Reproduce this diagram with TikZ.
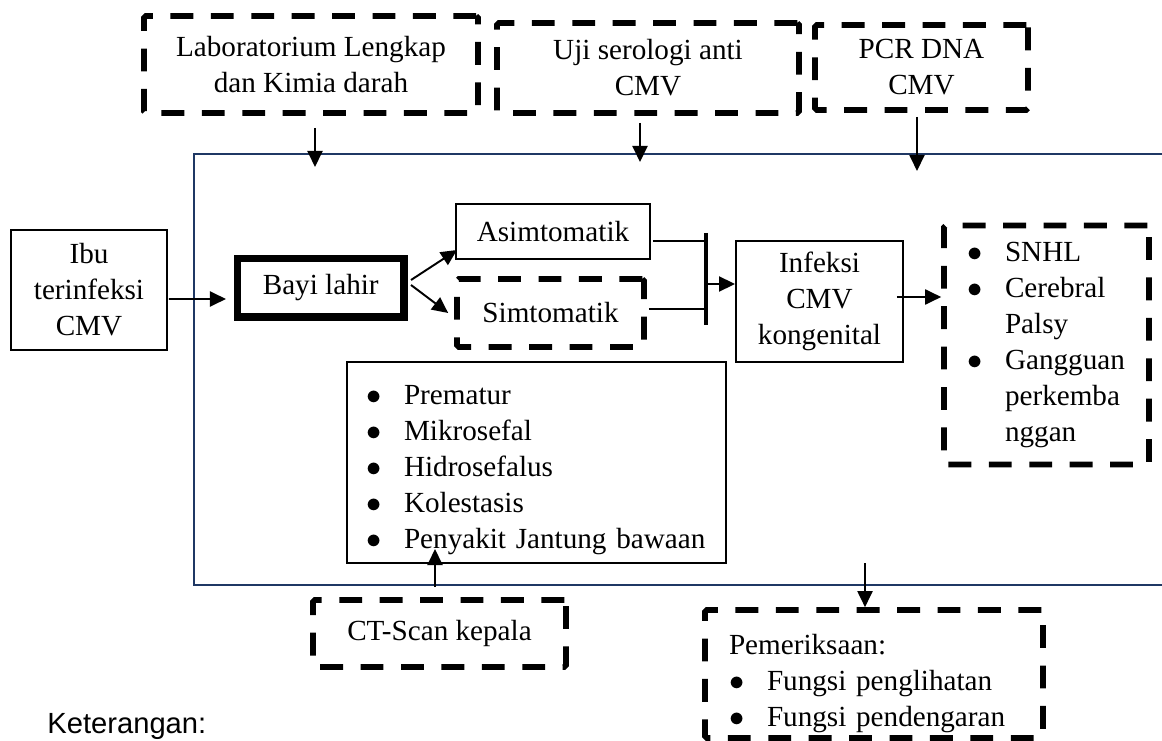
\documentclass[tikz,border=0pt]{standalone}
\usepackage{fontspec}
\setmainfont{Liberation Serif}
\newfontfamily\arialfont{Liberation Sans}
\usetikzlibrary{arrows.meta, calc}
\definecolor{FR}{RGB}{31,56,100}
\newcommand{\boxfont}{\fontsize{16.6}{20.5}\selectfont}
\newcommand{\bul}{\makebox[0.76cm][l]{$\bullet$}}
\newcommand{\cont}{\hspace*{0.76cm}}

\begin{document}
\begin{tikzpicture}[
  sbox/.style={draw, line width=1.1pt, align=center, font=\boxfont, inner sep=0pt},
  dbox/.style={draw, line width=3.2pt, dash pattern=on 13pt off 10pt,
                rounded corners=1pt, align=center, font=\boxfont, inner sep=0pt},
  lst/.style={align=left, inner ysep=0pt},
  arr/.style={-{Triangle[length=0.32cm,width=0.3cm]}, line width=1.1pt},
  frm/.style={draw=FR, line width=1.3pt}
]
\useasboundingbox (0,0) rectangle (23.24,14.8);

% outer frame
\draw[frm] (23.24,11.72) -- (3.88,11.72) -- (3.88,3.10) -- (23.24,3.10);

% examinations on top
\node[dbox, minimum width=6.68cm, minimum height=1.94cm] (lab) at (6.22,13.51)
  {Laboratorium Lengkap\\dan Kimia darah};
\node[dbox, minimum width=6.04cm, minimum height=1.80cm] (uji) at (12.96,13.44)
  {Uji serologi anti\\CMV};
\node[dbox, minimum width=4.26cm, minimum height=1.70cm] (pcr) at (18.43,13.45)
  {PCR DNA\\CMV};

% main flow
\node[sbox, minimum width=3.12cm, minimum height=2.40cm] (ibu) at (1.78,9.00)
  {Ibu\\terinfeksi\\CMV};
\node[sbox, line width=4pt, minimum width=3.33cm, minimum height=1.17cm] (bayi) at (6.415,9.045)
  {Bayi lahir};
\node[sbox, minimum width=3.88cm, minimum height=1.10cm] (asim) at (11.06,10.17)
  {Asimtomatik};
\node[dbox, minimum width=3.74cm, minimum height=1.36cm] (sim) at (11.01,8.54)
  {Simtomatik};
\node[sbox, minimum width=3.34cm, minimum height=2.42cm] (inf) at (16.39,8.77)
  {Infeksi\\CMV\\kongenital};
\node[dbox, lst, text width=3.18cm, inner xsep=0.46cm, minimum height=4.78cm] (dampak) at (20.93,7.90)
  {\bul SNHL\\\bul Cerebral\\\cont Palsy\\\bul Gangguan\\\cont perkemba\\\cont nggan};
\node[sbox, lst, text width=6.82cm, inner xsep=0.38cm, minimum height=4.02cm] (gejala) at (10.73,5.55)
  {\rule{0pt}{0.68cm}\bul Prematur\\\bul Mikrosefal\\\bul Hidrosefalus\\\bul Kolestasis\\\mbox{\bul Penyakit Jantung bawaan}};

% examinations below
\node[dbox, minimum width=5.06cm, minimum height=1.34cm] (ct) at (8.79,2.13)
  {CT-Scan kepala};
\node[dbox, lst, text width=5.8cm, inner xsep=0.48cm, minimum height=2.56cm] (pem) at (17.48,1.32)
  {\rule{0pt}{0.8cm}Pemeriksaan:\\\mbox{\bul Fungsi penglihatan}\\\mbox{\bul Fungsi pendengaran}};

\node[font=\arialfont\boxfont, anchor=base west, inner sep=0pt] (ket) at (0.94,0.14) {Keterangan:};

% connector points
\coordinate (labIn) at (6.30,11.46);
\coordinate (ujiIn) at (12.80,11.56);
\coordinate (pcrIn) at (18.34,11.38);
\coordinate (barT) at (14.12,10.14);
\coordinate (barB) at (14.12,8.30);
\coordinate (jA) at (14.12,9.98);
\coordinate (jS) at (14.12,8.62);
\coordinate (jM) at (14.12,9.12);
\coordinate (infOut) at ($(inf.east)+(-0.14,0.09)$);
\coordinate (ctUp) at (8.70,3.82);
\coordinate (pemFrom) at (17.30,3.54);

\draw[arr, shorten <=0.24cm] (lab.south -| labIn) -- (labIn);
\draw[arr, shorten <=0.14cm] (uji.south -| ujiIn) -- (ujiIn);
\draw[arr, shorten <=0.08cm] (pcr.south -| pcrIn) -- (pcrIn);

\draw[arr] ($(ibu.east)+(0.02,-0.18)$) -- ($(bayi.west)+(-0.16,-0.225)$);
\draw[arr] ($(bayi.east)+(0.07,0.155)$) -- ($(asim.south west)+(0.04,0.2)$);
\draw[arr] ($(bayi.east)+(0.07,0.055)$) -- ($(sim.west)+(-0.12,0)$);

\draw[line width=1.3pt, shorten <=0.04cm] (asim.east |- jA) -- (jA);
\draw[line width=1.3pt, shorten <=0.04cm] (sim.east |- jS) -- (jS);
\draw[line width=1.8pt] (barT) -- (barB);
\draw[arr] (jM) -- (inf.west |- jM);

\draw[arr] (infOut) -- (infOut -| dampak.west);
\draw[arr, shorten <=0.2cm] (ct.north -| ctUp) -- (ctUp);
\draw[arr] (pemFrom) -- (pem.north -| pemFrom);
\end{tikzpicture}
\end{document}
